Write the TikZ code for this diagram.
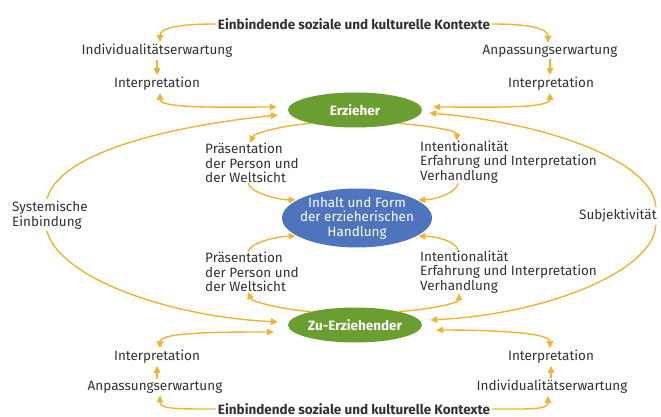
\documentclass[tikz,border=0pt]{standalone}
\usepackage{fontspec}
\setmainfont{Fira Sans}
\usetikzlibrary{arrows.meta,calc,shapes.geometric}
\definecolor{arrc}{RGB}{242,180,48}
\definecolor{grn}{RGB}{106,158,48}
\definecolor{blu}{RGB}{78,116,190}
\definecolor{txt}{RGB}{50,50,50}
\begin{document}
\begin{tikzpicture}[x=1pt,y=-1pt,
  lbl/.style={text=txt,inner sep=2pt,font=\fontsize{13.5}{14.5}\selectfont},
  ttl/.style={lbl,font=\fontsize{13.5}{14.5}\selectfont\bfseries},
  multi/.style={lbl,align=left,anchor=west},
  gell/.style={ellipse,fill=grn,minimum width=134pt,minimum height=35pt,inner sep=0pt},
  bell/.style={ellipse,fill=blu,minimum width=150pt,minimum height=59pt,inner sep=0pt},
  etxt/.style={text=white,font=\fontsize{13.5}{14.5}\selectfont\bfseries},
  itxt/.style={text=white,align=center,font=\fontsize{13.5}{14.5}\selectfont},
  arr/.style={draw=arrc,line width=1.4pt,-{Triangle[length=7pt,width=6.5pt]}},
  darr/.style={draw=arrc,line width=1.4pt,{Triangle[length=7pt,width=6.5pt]}-{Triangle[length=7pt,width=6.5pt]}},
]
\useasboundingbox (0,0) rectangle (661,417);
\fill[white] (0,0) rectangle (661,417);

% nodes
\node[ttl] (ttop) at (354,24) {Einbindende soziale und kulturelle Kontexte};
\node[ttl] (tbot) at (354,409) {Einbindende soziale und kulturelle Kontexte};
\node[lbl] (ind1) at (157,51) {Individualitätserwartung};
\node[lbl] (int1) at (157,84) {Interpretation};
\node[lbl] (anp1) at (550,51) {Anpassungserwartung};
\node[lbl] (int2) at (551,84) {Interpretation};
\node[gell,label={[etxt]center:Erzieher}] (erz) at (355,110) {};
\node[bell,label={[itxt]center:{Inhalt und Form\\der erzieherischen\\Handlung}}] (inh) at (357,218) {};
\node[gell,label={[etxt]center:Zu-Erziehender}] (zu) at (355,325) {};
\node[multi] (praes1) at (203,163) {Präsentation\\der Person und\\der Weltsicht};
\node[multi] (praes2) at (203,272) {Präsentation\\der Person und\\der Weltsicht};
\node[multi] (intent1) at (418,162) {Intentionalität\\Erfahrung und Interpretation\\Verhandlung};
\node[multi] (intent2) at (418,272) {Intentionalität\\Erfahrung und Interpretation\\Verhandlung};
\node[multi] (sys) at (10,215) {Systemische\\Einbindung};
\node[lbl,anchor=west] (subj) at (577,216) {Subjektivität};
\node[lbl] (int5) at (157,357) {Interpretation};
\node[lbl] (anp2) at (155,387) {Anpassungserwartung};
\node[lbl] (int6) at (551,357) {Interpretation};
\node[lbl] (ind2) at (552,387) {Individualitätserwartung};

% top connectors
\draw[arr] (ttop.west) .. controls +(-38,0) and +(0,-14) .. ($(ind1.north)+(3,0)$);
\draw[arr] (ttop.east) .. controls +(38,0) and +(0,-14) .. ($(anp1.north)+(-2,0)$);
\draw[arr] (ind1.south) -- (int1.north);
\draw[arr] (anp1.south) -- (anp1.south |- int2.north);
\draw[darr] ($(int1.south)+(3,0)$) .. controls +(0,16) and +(-50,0) .. ($(erz.west)+(-11,-3)$);
\draw[darr] ($(int2.south)+(-1,0)$) .. controls +(0,16) and +(50,0) .. ($(erz.east)+(11,-3)$);

% big arcs
\draw[arr] ($(sys.north)+(-3,0)$) .. controls +(12,-45) and +(-115,12) .. ($(erz.west)+(-10,5)$);
\draw[arr] ($(sys.south)+(-3,0)$) .. controls +(12,45) and +(-115,-6) .. ($(zu.west)+(-10,-3)$);
\draw[arr] ($(subj.north east)+(-3,0)$) .. controls +(-2,-45) and +(120,10) .. ($(erz.east)+(7,3)$);
\draw[arr] ($(subj.south east)+(-3,0)$) .. controls +(-2,45) and +(120,-6) .. ($(zu.east)+(8,-5)$);

% middle connectors
\draw[arr] (erz.197) .. controls +(-28,2) and +(4,-10) .. ($(praes1.north)+(-2,2)$);
\draw[arr,shorten >=2pt] ($(praes1.south)+(-4,-2)$) .. controls +(2,10) and +(-18,0) .. (inh.163);
\draw[arr,shorten >=2pt] ($(praes2.north)+(-4,2)$) .. controls +(2,-10) and +(-18,0) .. (inh.197);
\draw[arr] (zu.163) .. controls +(-28,-2) and +(4,10) .. ($(praes2.south)+(-4,-2)$);
\draw[arr] (erz.-17) .. controls +(28,2) and +(0,-10) .. ($(intent1.north west)+(39,2)$);
\draw[arr,shorten >=2pt] ($(intent1.south west)+(40,-2)$) .. controls +(-2,10) and +(18,0) .. (inh.17);
\draw[arr,shorten >=2pt] ($(intent2.north west)+(40,2)$) .. controls +(-2,-10) and +(18,0) .. (inh.-17);
\draw[arr] (zu.17) .. controls +(28,-2) and +(0,10) .. ($(intent2.south west)+(41,-2)$);

% bottom connectors
\draw[darr] ($(int5.north)+(3,0)$) .. controls +(0,-16) and +(-50,0) .. ($(zu.west)+(-14,7)$);
\draw[darr] ($(int6.north)+(-1,0)$) .. controls +(0,-16) and +(50,0) .. ($(zu.east)+(14,5)$);
\draw[arr] (int5.south |- anp2.north) -- (int5.south);
\draw[arr] (int6.south |- ind2.north) -- (int6.south);
\draw[arr] (tbot.west) .. controls +(-38,0) and +(0,14) .. ($(anp2.south)+(5,0)$);
\draw[arr] (tbot.east) .. controls +(38,0) and +(0,14) .. ($(ind2.south)+(-4,0)$);
\end{tikzpicture}
\end{document}
